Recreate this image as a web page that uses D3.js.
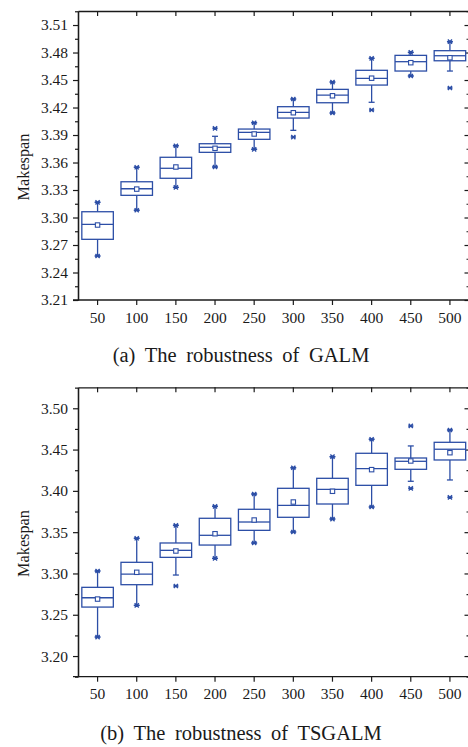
<!DOCTYPE html>
<html><head><meta charset="utf-8">
<script src="https://cdn.jsdelivr.net/npm/d3@7"></script>
<style>
html,body{margin:0;padding:0;background:#fff;}
svg{display:block;}
</style></head>
<body>
<svg id="chart" width="468" height="747"></svg>
<script>
const categories = ["50","100","150","200","250","300","350","400","450","500"];

// (a) GALM
const galmQ1   = [3.2762, 3.3242, 3.3428, 3.3711, 3.3853, 3.4085, 3.4252, 3.4445, 3.4598, 3.4710];
const galmMed  = [3.2926, 3.3314, 3.3537, 3.3766, 3.3929, 3.4148, 3.4336, 3.4519, 3.4700, 3.4765];
const galmQ3   = [3.3063, 3.3390, 3.3657, 3.3805, 3.3965, 3.4209, 3.4398, 3.4606, 3.4769, 3.4820];
const galmMean = [3.2918, 3.3310, 3.3551, 3.3755, 3.3911, 3.4143, 3.4328, 3.4520, 3.4689, 3.4743];
const galmWLo  = [3.2580, 3.3079, 3.3329, 3.3551, 3.3744, 3.3951, 3.4140, 3.4257, 3.4544, 3.4598];
const galmWHi  = [3.3166, 3.3548, 3.3783, 3.3886, 3.4034, 3.4293, 3.4478, 3.4737, 3.4802, 3.4918];
const galmMin  = [3.2580, 3.3079, 3.3329, 3.3551, 3.3744, 3.3878, 3.4140, 3.4173, 3.4544, 3.4413];
const galmMax  = [3.3166, 3.3548, 3.3783, 3.3973, 3.4034, 3.4293, 3.4478, 3.4737, 3.4802, 3.4918];
const galmTicks = ["3.21","3.24","3.27","3.30","3.33","3.36","3.39","3.42","3.45","3.48","3.51"];

// (b) TSGALM
const tsQ1   = [3.2593, 3.2864, 3.3195, 3.3344, 3.3522, 3.3680, 3.3841, 3.4067, 3.4261, 3.4374];
const tsMed  = [3.2706, 3.2993, 3.3280, 3.3462, 3.3623, 3.3825, 3.4019, 3.4269, 3.4358, 3.4504];
const tsQ3   = [3.2832, 3.3135, 3.3369, 3.3668, 3.3777, 3.4031, 3.4152, 3.4455, 3.4398, 3.4588];
const tsMean = [3.2690, 3.3014, 3.3272, 3.3481, 3.3647, 3.3865, 3.3995, 3.4257, 3.4362, 3.4462];
const tsWLo  = [3.2230, 3.2614, 3.2981, 3.3183, 3.3369, 3.3502, 3.3659, 3.3805, 3.4116, 3.4132];
const tsWHi  = [3.3030, 3.3426, 3.3583, 3.3813, 3.3962, 3.4280, 3.4414, 3.4625, 3.4544, 3.4737];
const tsMin  = [3.2230, 3.2614, 3.2848, 3.3183, 3.3369, 3.3502, 3.3659, 3.3805, 3.4031, 3.3922];
const tsMax  = [3.3030, 3.3426, 3.3583, 3.3813, 3.3962, 3.4280, 3.4414, 3.4625, 3.4786, 3.4737];
const tsTicks = ["3.20","3.25","3.30","3.35","3.40","3.45","3.50"];

const yTitle = "Makespan";
const captions = ["(a) The robustness of GALM", "(b) The robustness of TSGALM"];

const svg = d3.select("#chart");
const BLUE = "#2c4ea6";
const AX = "#1a1a1a";
const FONT = "'Liberation Serif','Times New Roman',serif";

function drawPanel(cfg) {
  const {top, bottom, left, right, domain, ticks, minorStep, q1, med, q3, mean, wlo, whi, mn, mx, caption, captionY} = cfg;
  const g = svg.append("g");
  const x = d3.scaleBand().domain(categories).range([left, right]).padding(0);
  const y = d3.scaleLinear().domain(domain).range([bottom, top]);
  const tickVals = ticks.map(Number);
  const minorVals = [];
  for (let v = domain[0]; v <= domain[1] + 1e-9; v += minorStep) {
    const r = Math.round(v * 10000) / 10000;
    if (!tickVals.some(t => Math.abs(t - r) < 1e-6)) minorVals.push(r);
  }
  const styleAxis = sel => {
    sel.select(".domain").attr("stroke", AX).attr("stroke-width", 1.3);
    sel.selectAll(".tick line").attr("stroke", AX).attr("stroke-width", 1.2);
    sel.selectAll("text").attr("fill", "#1a1a1a").style("font-family", FONT).style("font-size", "15.5px");
  };
  g.append("g").attr("transform", `translate(${left},0)`)
    .call(d3.axisLeft(y).tickValues(tickVals).tickFormat((d, i) => ticks[i]).tickSize(5).tickPadding(5).tickSizeOuter(0))
    .call(styleAxis);
  g.append("g").attr("transform", `translate(${left},0)`)
    .call(d3.axisLeft(y).tickValues(minorVals).tickFormat("").tickSize(3).tickSizeOuter(0))
    .call(styleAxis);
  g.append("g").attr("transform", `translate(${right},0)`)
    .call(d3.axisLeft(y).tickValues(tickVals).tickFormat("").tickSize(5).tickSizeOuter(0))
    .call(styleAxis);
  g.append("g").attr("transform", `translate(${right},0)`)
    .call(d3.axisLeft(y).tickValues(minorVals).tickFormat("").tickSize(3).tickSizeOuter(0))
    .call(styleAxis);
  const xb = g.append("g").attr("transform", `translate(0,${bottom})`)
    .call(d3.axisBottom(x).tickSize(5).tickPadding(5).tickSizeOuter(0))
    .call(styleAxis);
  xb.selectAll("text").attr("dy", null).attr("y", 22.7);
  xb.select(".domain").attr("d", `M${left - 5},0H${right}`);
  g.append("g").attr("transform", `translate(0,${top})`)
    .call(d3.axisBottom(x).tickSize(5).tickFormat("").tickSizeOuter(0))
    .call(styleAxis);

  const bw = 31.5, capW = 6, ms = 2.1;
  const cx = i => x(categories[i]) + x.bandwidth() / 2;
  const b = g.append("g").attr("stroke", BLUE).attr("stroke-width", 1.3).attr("fill", "none");
  categories.forEach((c, i) => {
    const xc = cx(i);
    b.append("line").attr("x1", xc).attr("x2", xc).attr("y1", y(q3[i])).attr("y2", y(whi[i]));
    b.append("line").attr("x1", xc).attr("x2", xc).attr("y1", y(q1[i])).attr("y2", y(wlo[i]));
    b.append("line").attr("x1", xc - capW / 2).attr("x2", xc + capW / 2).attr("y1", y(whi[i])).attr("y2", y(whi[i]));
    b.append("line").attr("x1", xc - capW / 2).attr("x2", xc + capW / 2).attr("y1", y(wlo[i])).attr("y2", y(wlo[i]));
    b.append("rect").attr("x", xc - bw / 2).attr("width", bw).attr("y", y(q3[i])).attr("height", y(q1[i]) - y(q3[i])).attr("fill", "#fff");
    b.append("line").attr("x1", xc - bw / 2).attr("x2", xc + bw / 2).attr("y1", y(med[i])).attr("y2", y(med[i]));
    b.append("rect").attr("x", xc - 2.2).attr("y", y(mean[i]) - 2.2).attr("width", 4.4).attr("height", 4.4).attr("fill", "#fff").attr("stroke-width", 1.1);
    [mn[i], mx[i]].forEach(v => {
      const yy = y(v);
      b.append("path").attr("d", `M${xc - ms},${yy - ms}L${xc + ms},${yy + ms}M${xc - ms},${yy + ms}L${xc + ms},${yy - ms}M${xc - ms - 0.5},${yy}H${xc + ms + 0.5}`).attr("stroke-width", 1.4);
    });
  });

  g.append("text").attr("transform", `translate(28.5,${(top + bottom) / 2 + 11.5}) rotate(-90)`)
    .attr("text-anchor", "middle").style("font-family", FONT).style("font-size", "16.3px").attr("fill", "#1a1a1a").text(yTitle);
  g.append("text").attr("x", 241).attr("y", captionY).attr("text-anchor", "middle")
    .style("font-family", FONT).style("font-size", "20.5px").style("word-spacing", "4.5px").attr("fill", "#1a1a1a").text(caption);
}

drawPanel({top: 11, bottom: 300, left: 78, right: 469.5, domain: [3.21, 3.5253], ticks: galmTicks, minorStep: 0.015,
  q1: galmQ1, med: galmMed, q3: galmQ3, mean: galmMean, wlo: galmWLo, whi: galmWHi, mn: galmMin, mx: galmMax,
  caption: captions[0], captionY: 361.7});
drawPanel({top: 387.3, bottom: 676.7, left: 78, right: 469.5, domain: [3.175, 3.5254], ticks: tsTicks, minorStep: 0.025,
  q1: tsQ1, med: tsMed, q3: tsQ3, mean: tsMean, wlo: tsWLo, whi: tsWHi, mn: tsMin, mx: tsMax,
  caption: captions[1], captionY: 740});
</script>
</body></html>
